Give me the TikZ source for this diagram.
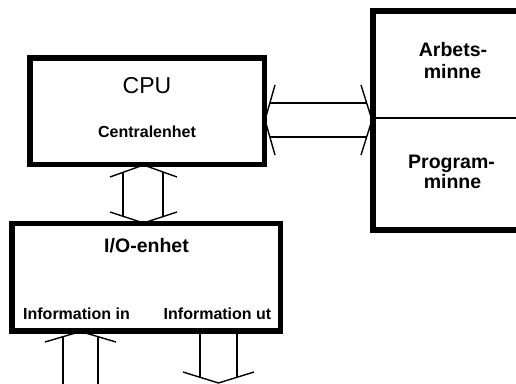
\documentclass[tikz,border=0pt]{standalone}
\usepackage{fontspec}
\setmainfont{Liberation Sans}
\tikzset{
  unit/.style={draw, rectangle, line width=5.5pt, inner sep=0pt},
  bus/.style={line width=1.4pt, line join=miter, line cap=butt},
  divider/.style={line width=1.6pt},
  lbl/.style={anchor=base, inner sep=0pt, font=\bfseries\fontsize{16}{19}\selectfont},
  biglbl/.style={lbl, font=\bfseries\fontsize{19.5}{23}\selectfont},
}
\begin{document}
\begin{tikzpicture}[x=1pt, y=-1pt]
\useasboundingbox (0,0) rectangle (516,383);
\clip (0,0) rectangle (516,383);

% ---- hollow bus arrows (drawn first, box borders cover the tips) ----
% CPU <-> memory
\coordinate (hl) at (265,120);
\coordinate (hr) at (372,120);
\draw[bus] (275,85) -- (hl) -- (275,155);
\draw[bus] (361,85) -- (hr) -- (361,155);
\draw[bus] (269.9,103) -- (366.7,103);
\draw[bus] (269.9,137) -- (366.7,137);

% CPU <-> I/O
\coordinate (vt) at (143.5,165);
\coordinate (vb) at (143.5,223);
\draw[bus] (110,177) -- (vt) -- (177,177);
\draw[bus] (110,212) -- (vb) -- (177,212);
\draw[bus] (123,172.3) -- (123,216.3);
\draw[bus] (163,172.1) -- (163,216.6);

% information in (towards the I/O unit)
\coordinate (inTip) at (80.5,331.5);
\draw[bus] (45,342) -- (inTip) -- (116,342);
\draw[bus] (63,336.7) -- (63,390);
\draw[bus] (98,336.7) -- (98,390);

% information out (away from the I/O unit)
\coordinate (outTip) at (218.5,383);
\draw[bus] (183,372) -- (outTip) -- (254,372);
\draw[bus] (200,331) -- (200,377.3);
\draw[bus] (237,331) -- (237,377.6);

% ---- units ----
\node[unit, minimum width=234.5pt, minimum height=106.5pt] (cpu) at (147.25,111.25) {};
\node[unit, minimum width=187pt, minimum height=219pt] (mem) at (466.5,120.5) {};
\node[unit, minimum width=268.5pt, minimum height=107.5pt] (io) at (146.25,277.25) {};

\coordinate (splitL) at (376,118);
\coordinate (splitR) at (516,118);
\draw[divider] (splitL) -- (splitR);

% ---- labels ----
\node[lbl, font=\fontsize{23}{27}\selectfont] (cpuname) at (147,93) {CPU};
\node[lbl] (cpusub) at (147,137) {Centralenhet};

\node[biglbl] (ram1) at (453,56) {Arbets-};
\node[biglbl] (ram2) at (452.5,78) {minne};
\node[biglbl] (rom1) at (451.5,168) {Program-};
\node[biglbl] (rom2) at (452.5,188) {minne};

\node[biglbl] (ioname) at (146.5,252) {I/O-enhet};
\node[lbl] (inlbl) at (76.5,319) {Information in};
\node[lbl] (outlbl) at (217.5,319) {Information ut};
\end{tikzpicture}
\end{document}
